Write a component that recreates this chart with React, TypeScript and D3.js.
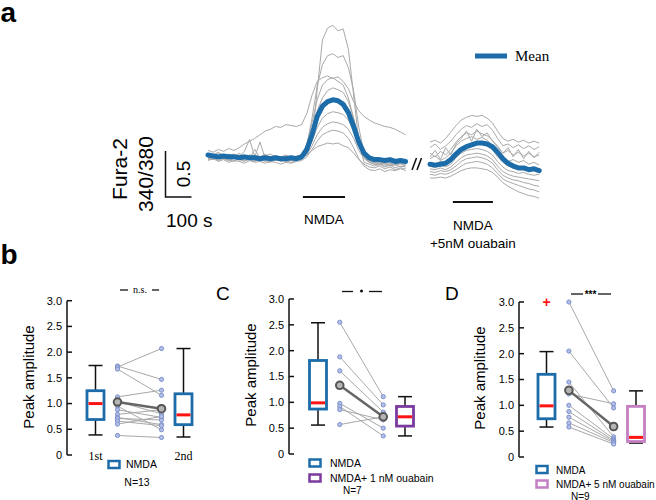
import React from 'react';
import * as d3 from 'd3';

const W = 656;
const H = 500;
const SANS = 'Liberation Sans, Arial, sans-serif';
const SERIF = 'Liberation Serif, Times New Roman, serif';

// ---------- Panel a: Fura-2 traces ----------
const TIME_1 = [0, 20, 40, 60, 80, 100, 120, 140, 160, 180, 200, 220, 240, 260, 280, 300, 320, 340, 360, 380, 400, 420, 440, 460, 480, 500, 520, 540, 560, 580, 600, 620, 640, 660, 680, 700, 720, 740, 760];
const TIME_2 = [0, 20, 40, 60, 80, 100, 120, 140, 160, 180, 200, 220, 240, 260, 280, 300, 320, 340, 360, 380, 400, 420];
const NMDA_1 = [365, 527];
const NMDA_2 = [88, 242];

const MEAN_1 = [1.00, 0.99, 0.98, 0.99, 0.98, 0.98, 0.97, 0.98, 0.97, 0.97, 0.96, 0.97, 0.96, 0.97, 0.96, 0.96, 0.97, 0.96,
  0.98, 1.06, 1.22, 1.42, 1.53, 1.58, 1.60, 1.59, 1.55, 1.46, 1.31, 1.14, 1.02, 0.97, 0.95, 0.95, 0.94, 0.95, 0.93, 0.94, 0.93];

const TRACES_1 = [
  [1.02, 1.00, 1.03, 0.99, 1.01, 0.98, 1.02, 0.97, 1.00, 0.99, 0.98, 1.01, 0.97, 0.99, 0.98, 1.00, 0.97, 0.99,
    1.00, 1.02, 1.15, 1.70, 2.25, 2.38, 2.41, 2.35, 2.37, 2.15, 1.65, 1.15, 0.92, 0.90, 0.88, 0.90, 0.87, 0.89, 0.86, 0.88, 0.87],
  [0.98, 1.00, 0.97, 0.99, 0.96, 0.98, 0.97, 0.95, 0.98, 0.96, 0.97, 0.95, 0.97, 0.96, 0.98, 0.95, 0.97, 0.96,
    0.98, 1.10, 1.40, 1.75, 1.98, 2.08, 2.10, 2.06, 2.08, 1.95, 1.70, 1.30, 1.02, 0.94, 0.92, 0.93, 0.90, 0.92, 0.89, 0.91, 0.90],
  [1.05, 1.03, 1.06, 1.04, 1.07, 1.05, 1.08, 1.12, 1.15, 1.18, 1.22, 1.26, 1.28, 1.31, 1.30, 1.33, 1.32, 1.31,
    1.33, 1.45, 1.65, 1.80, 1.84, 1.86, 1.83, 1.85, 1.80, 1.72, 1.58, 1.48, 1.42, 1.38, 1.35, 1.33, 1.31, 1.30, 1.28, 1.25, 1.22],
  [1.01, 0.99, 1.02, 1.00, 0.98, 1.01, 0.99, 1.00, 0.97, 1.00, 0.98, 0.99, 1.01, 0.98, 0.97, 0.99, 0.98, 0.97,
    0.99, 1.12, 1.35, 1.60, 1.76, 1.82, 1.84, 1.80, 1.76, 1.62, 1.40, 1.15, 0.98, 0.92, 0.90, 0.91, 0.88, 0.90, 0.89, 0.91, 0.88],
  [0.97, 0.95, 0.98, 0.96, 0.94, 0.97, 0.95, 0.93, 0.96, 0.94, 0.95, 0.93, 0.96, 0.94, 0.95, 0.93, 0.94, 0.95,
    0.96, 1.05, 1.25, 1.48, 1.62, 1.70, 1.73, 1.71, 1.68, 1.58, 1.40, 1.18, 1.00, 0.93, 0.91, 0.92, 0.90, 0.93, 0.91, 0.90, 0.92],
  [0.99, 1.01, 0.98, 1.00, 0.97, 0.99, 1.00, 0.97, 0.99, 0.98, 0.96, 0.99, 0.97, 0.98, 0.96, 0.98, 0.97, 0.96,
    0.97, 1.02, 1.15, 1.30, 1.40, 1.45, 1.47, 1.46, 1.44, 1.38, 1.26, 1.10, 0.99, 0.95, 0.94, 0.96, 0.93, 0.95, 0.94, 0.92, 0.95],
  [0.96, 0.98, 0.95, 0.97, 0.94, 0.96, 0.98, 1.04, 1.17, 0.98, 1.14, 0.96, 0.95, 0.97, 0.94, 0.96, 0.95, 0.94,
    0.96, 1.00, 1.10, 1.22, 1.30, 1.34, 1.36, 1.35, 1.33, 1.28, 1.18, 1.05, 0.96, 0.92, 0.90, 0.89, 0.91, 0.88, 0.90, 0.87, 0.89],
  [0.94, 0.96, 0.93, 0.95, 0.92, 0.94, 0.93, 0.91, 0.94, 0.92, 0.93, 0.91, 0.93, 0.92, 0.90, 0.92, 0.91, 0.93,
    0.94, 0.98, 1.06, 1.15, 1.22, 1.25, 1.27, 1.26, 1.24, 1.18, 1.08, 0.96, 0.88, 0.84, 0.83, 0.85, 0.82, 0.84, 0.83, 0.85, 0.83],
  [0.97, 0.95, 0.98, 0.96, 0.99, 0.97, 0.95, 0.98, 0.96, 1.06, 0.97, 0.95, 0.98, 0.96, 0.97, 0.95, 0.97, 0.96,
    0.97, 1.00, 1.05, 1.09, 1.11, 1.13, 1.12, 1.13, 1.10, 1.08, 1.02, 0.95, 0.90, 0.87, 0.86, 0.88, 0.85, 0.87, 0.84, 0.86, 0.85],
  [0.95, 0.97, 0.94, 0.96, 0.95, 0.93, 0.96, 0.94, 0.95, 0.93, 0.96, 0.94, 0.92, 0.95, 0.93, 0.94, 0.92, 0.94,
    0.95, 1.03, 1.20, 1.40, 1.52, 1.57, 1.60, 1.58, 1.55, 1.47, 1.32, 1.14, 1.00, 0.94, 0.92, 0.90, 0.93, 0.91, 0.89, 0.92, 0.90],
];

const MEAN_2 = [0.90, 0.89, 0.90, 0.91, 0.95, 1.01, 1.06, 1.09, 1.11, 1.13, 1.13, 1.12, 1.09, 1.03, 0.96, 0.91, 0.88, 0.86, 0.86, 0.84, 0.85, 0.83];

const TRACES_2 = [
  [1.14, 1.16, 1.13, 1.18, 1.25, 1.32, 1.38, 1.41, 1.43, 1.42, 1.43, 1.40, 1.35, 1.26, 1.18, 1.15, 1.17, 1.14, 1.16, 1.13, 1.15, 1.13],
  [1.08, 1.12, 1.06, 1.10, 1.15, 1.22, 1.28, 1.32, 1.30, 1.34, 1.31, 1.33, 1.27, 1.18, 1.10, 1.12, 1.08, 1.11, 1.07, 1.10, 1.06, 1.09],
  [1.02, 0.98, 1.04, 1.00, 1.06, 1.14, 1.20, 1.24, 1.22, 1.26, 1.23, 1.21, 1.16, 1.08, 1.02, 1.05, 1.00, 1.03, 0.99, 1.02, 0.98, 1.00],
  [0.96, 0.99, 0.94, 0.97, 1.02, 1.10, 1.15, 1.18, 1.20, 1.17, 1.19, 1.16, 1.10, 1.02, 0.96, 0.93, 0.95, 0.92, 0.94, 0.90, 0.92, 0.89],
  [0.92, 0.90, 0.93, 0.91, 0.95, 1.02, 1.08, 1.10, 1.12, 1.11, 1.13, 1.10, 1.06, 0.98, 0.92, 0.88, 0.86, 0.87, 0.84, 0.85, 0.83, 0.84],
  [0.88, 0.86, 0.89, 0.87, 0.90, 0.97, 1.02, 1.05, 1.06, 1.07, 1.06, 1.04, 1.00, 0.93, 0.87, 0.83, 0.82, 0.80, 0.81, 0.79, 0.78, 0.79],
  [0.85, 0.84, 0.86, 0.84, 0.87, 0.92, 0.97, 1.00, 1.01, 1.02, 1.01, 0.99, 0.95, 0.88, 0.82, 0.79, 0.77, 0.76, 0.75, 0.74, 0.73, 0.72],
  [0.82, 0.81, 0.83, 0.82, 0.84, 0.88, 0.93, 0.96, 0.97, 0.98, 0.97, 0.95, 0.91, 0.84, 0.78, 0.75, 0.73, 0.72, 0.70, 0.69, 0.67, 0.66],
  [0.79, 0.78, 0.80, 0.79, 0.81, 0.84, 0.88, 0.91, 0.92, 0.93, 0.92, 0.90, 0.86, 0.80, 0.74, 0.71, 0.69, 0.67, 0.65, 0.63, 0.62, 0.60],
  [0.75, 0.75, 0.76, 0.75, 0.77, 0.80, 0.83, 0.85, 0.86, 0.86, 0.85, 0.84, 0.81, 0.76, 0.70, 0.66, 0.63, 0.60, 0.58, 0.56, 0.55, 0.53],
  [0.98, 1.05, 0.95, 1.08, 1.00, 1.12, 1.18, 1.26, 1.15, 1.28, 1.20, 1.24, 1.15, 1.10, 1.02, 1.08, 0.98, 1.06, 0.96, 1.04, 0.97, 1.03],
];

// ---------- Panels b, C, D: peak amplitudes ----------
const Y_TICKS = [0, 0.5, 1.0, 1.5, 2.0, 2.5, 3.0];

// box stats: [lower whisker, q1, median, q3, upper whisker]
const B_BOX_1 = [0.39, 0.69, 1.00, 1.25, 1.74];
const B_BOX_2 = [0.35, 0.59, 0.78, 1.19, 2.07];
const B_PRE = [1.73, 1.71, 1.67, 1.13, 1.04, 0.95, 0.88, 0.79, 0.73, 0.71, 0.66, 0.60, 0.38];
const B_POST = [1.47, 2.07, 1.16, 1.26, 0.80, 0.49, 0.73, 0.88, 0.59, 0.68, 0.57, 0.75, 0.34];
const B_MEAN = [1.03, 0.90];

const C_BOX_1 = [0.56, 0.87, 0.99, 1.81, 2.54];
const C_BOX_2 = [0.35, 0.54, 0.72, 0.92, 1.11];
const C_PRE = [2.55, 1.88, 1.61, 0.98, 0.92, 0.86, 0.57];
const C_POST = [1.11, 0.95, 0.81, 0.50, 0.35, 0.66, 0.72];
const C_MEAN = [1.33, 0.72];

const D_BOX_1 = [0.58, 0.74, 0.99, 1.60, 2.04];
const D_BOX_2 = [0.27, 0.30, 0.38, 0.98, 1.28];
const D_OUTLIERS_1 = [3.0];
const D_PRE = [3.00, 2.05, 1.45, 1.22, 1.00, 0.88, 0.77, 0.66, 0.58];
const D_POST = [1.28, 0.95, 0.39, 1.03, 0.35, 0.32, 0.30, 0.28, 0.25];
const D_MEAN = [1.29, 0.59];

const BLUE = '#1c6ca9';
const PURPLE = '#7a3a9e';
const PINK = '#c57fc3';
const RED = '#ff1414';

function Traces() {
  const x1 = d3.scaleLinear().domain([0, 760]).range([208, 405.6]);
  const x2 = d3.scaleLinear().domain([0, 420]).range([430, 539.2]);
  const y = d3.scaleLinear().domain([0.5, 2.5]).range([201, 17]);
  const mk = (xs: d3.ScaleLinear<number, number>, T: number[]) =>
    d3.line<number>().defined((_, i) => i < T.length).x((_, i) => xs(T[i])).y((d) => y(d));
  const l1 = mk(x1, TIME_1);
  const l2 = mk(x2, TIME_2);
  const sbX = 165.5;
  const sbBottom = 197;
  const sbH = y(0.5) - y(1.0);
  const sbW = x1(100) - x1(0);
  return (
    <g>
      {TRACES_1.map((t, i) => (
        <path key={'a' + i} d={l1(t) || ''} fill="none" stroke="#a9a9a9" strokeWidth={1} />
      ))}
      <path d={l1(MEAN_1) || ''} fill="none" stroke={BLUE} strokeWidth={5} strokeLinejoin="round" strokeLinecap="round" />
      {TRACES_2.map((t, i) => (
        <path key={'b' + i} d={l2(t) || ''} fill="none" stroke="#a9a9a9" strokeWidth={1} />
      ))}
      <path d={l2(MEAN_2) || ''} fill="none" stroke={BLUE} strokeWidth={5} strokeLinejoin="round" strokeLinecap="round" />
      {/* break marks */}
      <line x1={412} y1={170} x2={416.5} y2={158} stroke="#111" strokeWidth={1.5} />
      <line x1={417} y1={170} x2={421.5} y2={158} stroke="#111" strokeWidth={1.5} />
      {/* NMDA bars */}
      <line x1={x1(NMDA_1[0])} x2={x1(NMDA_1[1])} y1={197} y2={197} stroke="#111" strokeWidth={1.8} />
      <text x={(x1(NMDA_1[0]) + x1(NMDA_1[1])) / 2} y={224} textAnchor="middle" fontFamily={SANS} fontSize={13.5}>NMDA</text>
      <line x1={x2(NMDA_2[0])} x2={x2(NMDA_2[1])} y1={202} y2={202} stroke="#111" strokeWidth={1.8} />
      <text x={(x2(NMDA_2[0]) + x2(NMDA_2[1])) / 2} y={230} textAnchor="middle" fontFamily={SANS} fontSize={13.5}>NMDA</text>
      <text x={(x2(NMDA_2[0]) + x2(NMDA_2[1])) / 2} y={248} textAnchor="middle" fontFamily={SANS} fontSize={13.5}>+5nM ouabain</text>
      {/* scale bar */}
      <path d={`M${sbX},${sbBottom - sbH} V${sbBottom} H${sbX + sbW}`} fill="none" stroke="#111" strokeWidth={1.5} />
      <text transform={`translate(190,174) rotate(-90)`} textAnchor="middle" fontFamily={SANS} fontSize={19}>0.5</text>
      <text transform={`translate(127,169) rotate(-90)`} textAnchor="middle" fontFamily={SANS} fontSize={21}>Fura-2</text>
      <text transform={`translate(153,174) rotate(-90)`} textAnchor="middle" fontFamily={SANS} fontSize={21}>340/380</text>
      <text x={166} y={227} fontFamily={SANS} fontSize={19}>100 s</text>
      {/* legend */}
      <line x1={475} x2={507} y1={56} y2={56} stroke={BLUE} strokeWidth={5} />
      <text x={515} y={61} fontFamily={SERIF} fontSize={15}>Mean</text>
    </g>
  );
}

type BoxProps = {
  axisX: number; y0: number; y3: number; xa: number; xb: number;
  box1: number[]; box2: number[]; color2: string; pre: number[]; post: number[]; means: number[];
  outliers1?: number[];
};

function BoxPanel(p: BoxProps) {
  const y = d3.scaleLinear().domain([0, 3]).range([p.y0, p.y3]);
  const x = d3.scaleLinear().domain([0, 4]).range([p.xa, p.xb]);
  const fmt = (v: number) => (v === 0 ? '0' : d3.format('.1f')(v));
  const drawBox = (s: number[], cx: number, color: string) => {
    const [lo, q1, med, q3, hi] = s;
    return (
      <g>
        <line x1={cx} x2={cx} y1={y(hi)} y2={y(q3)} stroke="#111" strokeWidth={1.5} />
        <line x1={cx} x2={cx} y1={y(q1)} y2={y(lo)} stroke="#111" strokeWidth={1.5} />
        <line x1={cx - 7} x2={cx + 7} y1={y(hi)} y2={y(hi)} stroke="#111" strokeWidth={1.5} />
        <line x1={cx - 7} x2={cx + 7} y1={y(lo)} y2={y(lo)} stroke="#111" strokeWidth={1.5} />
        <rect x={cx - 8.5} y={y(q3)} width={17} height={y(q1) - y(q3)} fill="#fff" stroke={color} strokeWidth={2.8} />
        <line x1={cx - 7} x2={cx + 7} y1={y(med)} y2={y(med)} stroke={RED} strokeWidth={3} />
      </g>
    );
  };
  return (
    <g>
      <line x1={p.axisX} x2={p.axisX} y1={y(0)} y2={y(3)} stroke="#111" strokeWidth={1.5} />
      {Y_TICKS.map((t) => (
        <g key={t}>
          <line x1={p.axisX} x2={p.axisX + 5} y1={y(t)} y2={y(t)} stroke="#111" strokeWidth={1.5} />
          <text x={p.axisX - 5} y={y(t)} dy="0.35em" textAnchor="end" fontFamily={SANS} fontSize={11}>{fmt(t)}</text>
        </g>
      ))}
      {drawBox(p.box1, x(0), BLUE)}
      {drawBox(p.box2, x(4), p.color2)}
      {(p.outliers1 || []).map((o, i) => (
        <text key={i} x={x(0)} y={y(o)} dy="0.35em" textAnchor="middle" fill={RED} fontFamily={SANS} fontWeight="bold" fontSize={14}>+</text>
      ))}
      {p.pre.map((v, i) => (
        <line key={'l' + i} x1={x(1)} y1={y(v)} x2={x(3)} y2={y(p.post[i])} stroke="#a8a8a8" strokeWidth={1} />
      ))}
      <line x1={x(1)} y1={y(p.means[0])} x2={x(3)} y2={y(p.means[1])} stroke="#666" strokeWidth={2.5} />
      {p.pre.map((v, i) => (
        <circle key={'p' + i} cx={x(1)} cy={y(v)} r={2.1} fill="#b3bfe6" stroke="#7d91cc" strokeWidth={1} />
      ))}
      {p.post.map((v, i) => (
        <circle key={'q' + i} cx={x(3)} cy={y(v)} r={2.1} fill="#b3bfe6" stroke="#7d91cc" strokeWidth={1} />
      ))}
      {p.means.map((v, i) => (
        <circle key={'m' + i} cx={x(i === 0 ? 1 : 3)} cy={y(v)} r={3.8} fill="#b5b5b5" stroke="#555" strokeWidth={2} />
      ))}
    </g>
  );
}

function LegendBox({ x, y, color }: { x: number; y: number; color: string }) {
  return <rect x={x} y={y} width={11} height={7} fill="#fff" stroke={color} strokeWidth={2.5} />;
}

export default function App() {
  return (
    <svg width={W} height={H} viewBox={`0 0 ${W} ${H}`} style={{ position: 'absolute', left: 0, top: 0, background: '#fff' }}>
      <rect width={W} height={H} fill="#fff" />
      <text x={0.5} y={22} fontFamily={SANS} fontWeight="bold" fontSize={28}>a</text>
      <text x={0.5} y={264} fontFamily={SANS} fontWeight="bold" fontSize={28}>b</text>
      <Traces />

      {/* Panel b */}
      <BoxPanel axisX={67} y0={455} y3={300.7} xa={95.5} xb={183.5} box1={B_BOX_1} box2={B_BOX_2} color2={BLUE}
        pre={B_PRE} post={B_POST} means={B_MEAN} />
      <text transform="translate(34,377) rotate(-90)" textAnchor="middle" fontFamily={SANS} fontSize={15}>Peak amplitude</text>
      <text x={95.5} y={460} textAnchor="middle" fontFamily={SERIF} fontSize={12}>1st</text>
      <text x={183.5} y={460} textAnchor="middle" fontFamily={SERIF} fontSize={12}>2nd</text>
      <line x1={120} x2={128} y1={290} y2={290} stroke="#111" strokeWidth={1.3} />
      <line x1={152} x2={159} y1={290} y2={290} stroke="#111" strokeWidth={1.3} />
      <text x={140} y={293} textAnchor="middle" fontFamily={SERIF} fontSize={10}>n.s.</text>
      <LegendBox x={108.5} y={461} color={BLUE} />
      <text x={126} y={468} fontFamily={SANS} fontSize={10.5}>NMDA</text>
      <text x={137} y={486} textAnchor="middle" fontFamily={SANS} fontSize={10.5}>N=13</text>

      {/* Panel C */}
      <text x={216} y={300} fontFamily={SANS} fontSize={19}>C</text>
      <BoxPanel axisX={289} y0={454} y3={299} xa={318} xb={405} box1={C_BOX_1} box2={C_BOX_2} color2={PURPLE}
        pre={C_PRE} post={C_POST} means={C_MEAN} />
      <text transform="translate(256,375) rotate(-90)" textAnchor="middle" fontFamily={SANS} fontSize={15}>Peak amplitude</text>
      <line x1={342} x2={353} y1={291.5} y2={291.5} stroke="#111" strokeWidth={1.3} />
      <line x1={369} x2={382} y1={291.5} y2={291.5} stroke="#111" strokeWidth={1.3} />
      <circle cx={361.5} cy={291} r={1.5} fill="#111" />
      <LegendBox x={309.5} y={459.5} color={BLUE} />
      <text x={330} y={467} fontFamily={SANS} fontSize={10.5}>NMDA</text>
      <LegendBox x={309.5} y={474.5} color={PURPLE} />
      <text x={330} y={481.5} fontFamily={SANS} fontSize={10.5}>NMDA+ 1 nM ouabain</text>
      <text x={343} y={494} fontFamily={SANS} fontSize={10}>N=7</text>

      {/* Panel D */}
      <text x={445} y={300} fontFamily={SANS} fontSize={19}>D</text>
      <BoxPanel axisX={519} y0={457} y3={302} xa={546.5} xb={636} box1={D_BOX_1} box2={D_BOX_2} color2={PINK}
        pre={D_PRE} post={D_POST} means={D_MEAN} outliers1={D_OUTLIERS_1} />
      <text transform="translate(485,378) rotate(-90)" textAnchor="middle" fontFamily={SANS} fontSize={15}>Peak amplitude</text>
      <line x1={571} x2={583} y1={294} y2={294} stroke="#111" strokeWidth={1.3} />
      <line x1={598} x2={611} y1={294} y2={294} stroke="#111" strokeWidth={1.3} />
      <text x={590.5} y={298} textAnchor="middle" fontFamily={SANS} fontSize={10} fontWeight="bold">***</text>
      <LegendBox x={536.5} y={466} color={BLUE} />
      <text x={556} y={473.5} fontFamily={SANS} fontSize={10}>NMDA</text>
      <LegendBox x={536.5} y={480.5} color={PINK} />
      <text x={556} y={488} fontFamily={SANS} fontSize={10}>NMDA+ 5 nM ouabain</text>
      <text x={571} y={499.5} fontFamily={SANS} fontSize={10}>N=9</text>
    </svg>
  );
}
